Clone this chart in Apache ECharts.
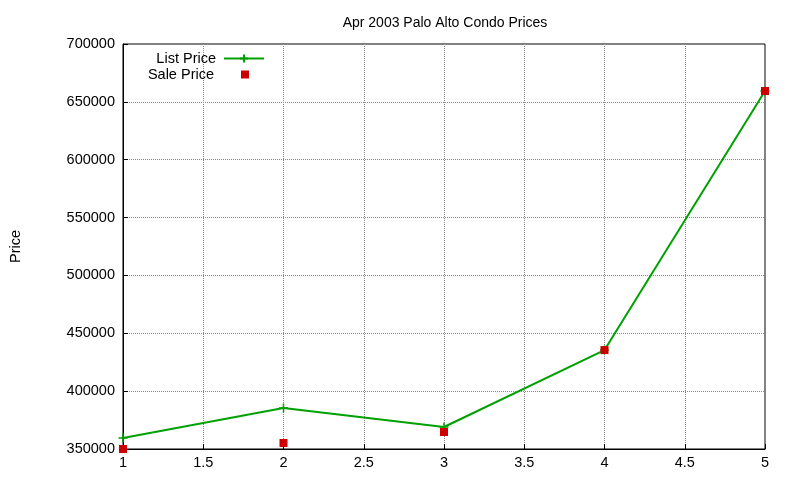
<!DOCTYPE html>
<html><head><meta charset="utf-8">
<script src="https://cdn.jsdelivr.net/npm/echarts@6/dist/echarts.min.js"></script>
<style>html,body{margin:0;padding:0;background:#fff}#c{width:800px;height:480px}</style>
</head><body><div id="c"></div>
<script>
const xs = [1, 2, 3, 4, 5];
const listPrice = [359500, 385400, 369000, 435500, 659400];
const salePrice = [350000, 355200, 364700, 435500, 659400];
const font = 'Liberation Sans, Arial, sans-serif';
const chart = echarts.init(document.getElementById('c'));
chart.setOption({
  animation: false,
  title: { text: 'Apr 2003 Palo Alto Condo Prices', left: 440, textAlign: 'center', top: 11,
    textStyle: { fontFamily: font, fontSize: 14, fontWeight: 'normal', color: '#000' } },
  legend: [
    { data: ['List Price'], right: 530, top: 46, align: 'right', itemWidth: 40, itemHeight: 10,
      textStyle: { fontFamily: font, fontSize: 14.5, color: '#000', padding: [0, 3, 0, 0] } },
    { data: [{ name: 'Sale Price', icon: 'rect' }], right: 546, top: 62, align: 'right', itemWidth: 8, itemHeight: 8,
      textStyle: { fontFamily: font, fontSize: 14.5, color: '#000', padding: [0, 22, 0, 0] } }
  ],
  grid: { left: 119, right: 35, top: 44, bottom: 31, show: true, borderColor: '#000', borderWidth: 1 },
  xAxis: { type: 'value', min: 1, max: 5, interval: 0.5,
    axisLine: { lineStyle: { color: '#000' } }, axisTick: { inside: true, lineStyle: { color: '#000' } },
    axisLabel: { fontFamily: font, fontSize: 14.5, color: '#000', margin: 6 },
    splitLine: { lineStyle: { type: 'dotted', color: '#888' } } },
  yAxis: { type: 'value', min: 350000, max: 700000, interval: 50000,
    name: 'Price', nameLocation: 'middle', nameGap: 100, nameRotate: 90,
    nameTextStyle: { fontFamily: font, fontSize: 14.5, color: '#000' },
    axisLine: { show: true, lineStyle: { color: '#000' } }, axisTick: { inside: true, lineStyle: { color: '#000' } },
    axisLabel: { fontFamily: font, fontSize: 14.5, color: '#000', margin: 8, formatter: v => String(v) },
    splitLine: { lineStyle: { type: 'dotted', color: '#888' } } },
  series: [
    { name: 'List Price', type: 'line', data: xs.map((x, i) => [x, listPrice[i]]),
      symbol: 'path://M0,5L10,5M5,0L5,10', symbolSize: 9,
      itemStyle: { color: '#00a000', borderColor: '#00a000', borderWidth: 1.5 },
      lineStyle: { color: '#00a000', width: 2 } },
    { name: 'Sale Price', type: 'scatter', data: xs.map((x, i) => [x, salePrice[i]]),
      symbol: 'rect', symbolSize: 8, itemStyle: { color: '#cc0000', opacity: 1 }, z: 3 }
  ]
});
</script></body></html>
